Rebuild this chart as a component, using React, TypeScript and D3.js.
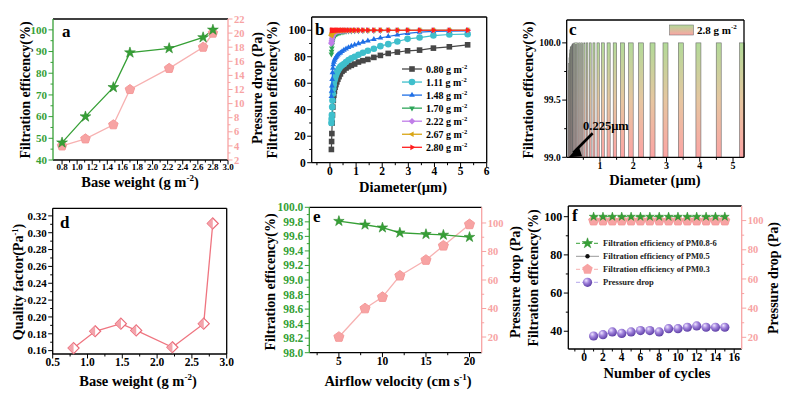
import React from 'react';
import * as d3 from 'd3';

const FONT = "'Liberation Serif','Times New Roman',serif";
const GREEN = '#36a036';
const PINK = '#f7a3a3';
const PINKLINE = '#f7b1b1';

// ---- panel a / d : base weight series
const baseWeight = [0.8, 1.11, 1.48, 1.7, 2.22, 2.67, 2.8];
const effA = [48, 60, 73.5, 89.5, 91.5, 96.5, 100];
const dropA = [4, 5, 7, 12, 15, 18, 20];
const qualityD = [0.163, 0.183, 0.192, 0.184, 0.164, 0.192, 0.311];

// ---- panel b / c : fractional efficiency vs diameter
const diam = [0.054, 0.062, 0.072, 0.083, 0.096, 0.11, 0.127, 0.147, 0.17, 0.196, 0.226, 0.261, 0.301, 0.347, 0.4,
  0.462, 0.533, 0.615, 0.71, 0.819, 0.945, 1.09, 1.26, 1.45, 1.68, 1.93, 2.23, 2.58, 2.97, 3.43, 3.96, 4.57, 5.27];
const eff080 = [10, 16, 22, 30, 36, 42, 47, 51, 54, 57, 59, 61, 63, 65, 67, 69, 70, 71.5, 72.5, 73.5,
  74.5, 76, 77, 78, 79.5, 81, 82.5, 83.5, 84.5, 85, 86.5, 87.5, 89];
const eff111 = [30, 33, 36, 42, 47, 52, 56, 59, 62, 64, 66, 68, 69.5, 71, 72.5, 73.5, 74.5, 76, 77.5, 78.8,
  80, 81.5, 83, 84.5, 86, 88, 89.5, 91.5, 93.5, 94.5, 96, 96.8, 97];
const eff148 = [50, 54, 58, 63, 68, 71.5, 74, 76, 77.5, 78.5, 79.5, 80.5, 81.5, 82.3, 83, 84, 85, 86, 87, 88,
  89, 90, 91, 92, 93.2, 94.2, 95.3, 96.5, 97.7, 98.6, 99.1, 99.3, 99.5];
const eff170 = [82, 84, 86.5, 89, 91, 92.5, 93.8, 94.8, 95.5, 96.2, 96.8, 97.2, 97.6, 98, 98.3, 98.6, 98.8, 99, 99.2, 99.3,
  99.4, 99.5, 99.6, 99.65, 99.7, 99.75, 99.8, 99.82, 99.85, 99.88, 99.9, 99.92, 99.95];
const eff222 = [90, 91, 92.5, 94, 95.3, 96.3, 97, 97.6, 98.1, 98.5, 98.8, 99.05, 99.25, 99.4, 99.5, 99.6, 99.68, 99.75, 99.8, 99.84,
  99.87, 99.9, 99.92, 99.94, 99.95, 99.96, 99.97, 99.98, 99.98, 99.99, 99.99, 99.99, 100];
const eff267 = [96, 96.5, 97, 97.6, 98.1, 98.5, 98.9, 99.2, 99.4, 99.55, 99.65, 99.75, 99.8, 99.85, 99.9, 99.92, 99.94, 99.96, 99.97, 99.98,
  99.98, 99.99, 99.99, 99.99, 100, 100, 100, 100, 100, 100, 100, 100, 100];
const eff280 = [99.76, 99.82, 99.87, 99.91, 99.94, 99.96, 99.97, 99.98, 99.99, 99.995, 100, 100, 100, 100, 100, 100, 100, 100, 100, 100,
  100, 100, 100, 100, 100, 100, 100, 100, 100, 100, 100, 100, 100];
const weightLabels = ['0.80', '1.11', '1.48', '1.70', '2.22', '2.67', '2.80'];
const seriesB = [
  { label: weightLabels[0], color: '#474747', shape: 'square', values: eff080 },
  { label: weightLabels[1], color: '#3fbfcc', shape: 'circle', values: eff111 },
  { label: weightLabels[2], color: '#1f6fe6', shape: 'up', values: eff148 },
  { label: weightLabels[3], color: '#2fa65a', shape: 'down', values: eff170 },
  { label: weightLabels[4], color: '#c07ee8', shape: 'diamond', values: eff222 },
  { label: weightLabels[5], color: '#d9a514', shape: 'left', values: eff267 },
  { label: weightLabels[6], color: '#ff1e1e', shape: 'right', values: eff280 },
];

// ---- panel e : airflow velocity
const velocity = [5, 8, 10, 12, 15, 17, 20];
const effE = [99.81, 99.76, 99.72, 99.65, 99.63, 99.62, 99.59];
const dropE = [20, 40, 48, 63, 74, 84, 99];

// ---- panel f : cycles
const cycles = [1, 2, 3, 4, 5, 6, 7, 8, 9, 10, 11, 12, 13, 14, 15];
const effPM086 = [100, 100, 100, 100, 100, 100, 100, 100, 100, 100, 100, 100, 100, 100, 100];
const effPM05 = [99.9, 99.9, 99.9, 99.9, 99.9, 99.9, 99.9, 99.9, 99.9, 99.9, 99.9, 99.9, 99.9, 99.9, 99.9];
const effPM03 = [97.9, 97.9, 97.9, 97.9, 97.9, 97.9, 97.9, 97.9, 97.9, 97.9, 97.9, 97.9, 97.9, 97.9, 97.9];
const dropF = [20.9, 21.8, 23.7, 22.7, 23.7, 24.6, 24.6, 23.7, 25.9, 25.9, 26.9, 27.8, 26.9, 26.9, 26.9];
const legendF = ['Filtration efficiency of PM0.8-6', 'Filtration efficiency of PM0.5', 'Filtration efficiency of PM0.3', 'Pressure drop'];

// ---- tick values
const ticksAX = [0.8, 1.0, 1.2, 1.4, 1.6, 1.8, 2.0, 2.2, 2.4, 2.6, 2.8, 3.0];
const ticksAL = [40, 50, 60, 70, 80, 90, 100];
const ticksAR = [2, 4, 6, 8, 10, 12, 14, 16, 18, 20, 22];
const ticksBX = [0, 1, 2, 3, 4, 5, 6];
const ticksBY = [0, 20, 40, 60, 80, 100];
const ticksCX = [1, 2, 3, 4, 5];
const ticksCY = [99.0, 99.5, 100.0];
const ticksDX = [0.5, 1.0, 1.5, 2.0, 2.5, 3.0];
const ticksDY = [0.16, 0.18, 0.2, 0.22, 0.24, 0.26, 0.28, 0.3, 0.32];
const ticksEX = [5, 10, 15, 20];
const ticksEL = [98.0, 98.2, 98.4, 98.6, 98.8, 99.0, 99.2, 99.4, 99.6, 99.8, 100.0];
const ticksER = [20, 40, 60, 80, 100];
const ticksFX = [0, 2, 4, 6, 8, 10, 12, 14, 16];
const ticksFL = [40, 60, 80, 100];
const ticksFR = [20, 40, 60, 80, 100];

const mids = (t: number[]) => t.slice(1).map((v, i) => (v + t[i]) / 2);

const star = (s: number) => d3.symbol(d3.symbolStar, s)() as string;
const pent = (r: number) =>
  'M' + d3.range(5).map(i => {
    const a = -Math.PI / 2 + (i * 2 * Math.PI) / 5;
    return `${r * Math.cos(a)},${r * Math.sin(a)}`;
  }).join('L') + 'Z';

function shapePath(shape: string, r: number) {
  const h = r * 0.87;
  switch (shape) {
    case 'square': return `M${-r * 0.85},${-r * 0.85}h${r * 1.7}v${r * 1.7}h${-r * 1.7}Z`;
    case 'circle': return d3.symbol(d3.symbolCircle, Math.PI * r * r)() as string;
    case 'up': return `M0,${-r}L${h},${r * 0.5}L${-h},${r * 0.5}Z`;
    case 'down': return `M0,${r}L${h},${-r * 0.5}L${-h},${-r * 0.5}Z`;
    case 'left': return `M${-r},0L${r * 0.5},${-h}L${r * 0.5},${h}Z`;
    case 'right': return `M${r},0L${-r * 0.5},${-h}L${-r * 0.5},${h}Z`;
    default: return `M0,${-r}L${r},0L0,${r}L${-r},0Z`;
  }
}

type Sc = d3.ScaleLinear<number, number>;

function Axis({ s, o, at, major, minor = [], fmt = (v: number) => String(v), color = '#000', tc, fs = 11 }: {
  s: Sc; o: 'l' | 'r' | 'b'; at: number; major: number[]; minor?: number[]; fmt?: (v: number) => string; color?: string; tc?: string; fs?: number;
}) {
  const [a, b] = s.range();
  const v = o !== 'b';
  const d = o === 'l' ? -1 : 1;
  const tick = (val: number, len: number, key: string) => v
    ? <line key={key} x1={at} x2={at + d * len} y1={s(val)} y2={s(val)} stroke={color} strokeWidth={1} />
    : <line key={key} x1={s(val)} x2={s(val)} y1={at} y2={at + len} stroke={color} strokeWidth={1} />;
  return (
    <g fontFamily={FONT} fontWeight="bold">
      {v
        ? <line x1={at} x2={at} y1={a} y2={b} stroke={color} strokeWidth={1.3} />
        : <line x1={a} x2={b} y1={at} y2={at} stroke={color} strokeWidth={1.3} />}
      {minor.map((m, i) => tick(m, 2.5, 'm' + i))}
      {major.map((m, i) => tick(m, 4.5, 'M' + i))}
      {major.map((m, i) => v
        ? <text key={'t' + i} x={at + d * 6} y={s(m)} dy="0.35em" textAnchor={o === 'l' ? 'end' : 'start'} fontSize={fs} fill={tc || color}>{fmt(m)}</text>
        : <text key={'t' + i} x={s(m)} y={at + 4 + fs * 0.72} textAnchor="middle" fontSize={fs} fill={tc || color}>{fmt(m)}</text>)}
    </g>
  );
}

function VTitle({ x, y, children, fs = 14 }: { x: number; y: number; children: React.ReactNode; fs?: number }) {
  return (
    <text transform={`translate(${x},${y}) rotate(-90)`} textAnchor="middle" dy="0.35em" fontFamily={FONT} fontWeight="bold" fontSize={fs} fill="#000">{children}</text>
  );
}

function HTitle({ x, y, children, fs = 14.5 }: { x: number; y: number; children: React.ReactNode; fs?: number }) {
  return (
    <text x={x} y={y} textAnchor="middle" dy="0.35em" fontFamily={FONT} fontWeight="bold" fontSize={fs} fill="#000">{children}</text>
  );
}

const Sup = ({ t, fs }: { t: string; fs: number }) => (
  <><tspan dy={-fs * 0.4} fontSize={fs * 0.62}>{t}</tspan><tspan dy={fs * 0.4}>{')'}</tspan></>
);

function Frame({ x0, x1, y0, y1, right = true }: { x0: number; x1: number; y0: number; y1: number; right?: boolean }) {
  return (
    <g stroke="#000" strokeWidth={1.3}>
      <line x1={x0} x2={x1} y1={y0} y2={y0} />
      {right && <line x1={x1} x2={x1} y1={y0} y2={y1} />}
    </g>
  );
}

const Label = ({ x, y, t }: { x: number; y: number; t: string }) => (
  <text x={x} y={y} fontFamily={FONT} fontWeight="bold" fontSize={17} fill="#000">{t}</text>
);

export default function App() {
  // panel a
  const xA = d3.scaleLinear([0.68, 3.0], [53, 228]);
  const yAL = d3.scaleLinear([40, 105], [160, 19]);
  const yAR = d3.scaleLinear([2, 22], [160, 19]);
  // panel b
  const xB = d3.scaleLinear([-0.7, 6], [311.7, 486.7]);
  const yB = d3.scaleLinear([0, 110], [162.7, 17]);
  // panel c
  const xC = d3.scaleLinear([0, 5.33], [566.7, 744]);
  const yC = d3.scaleLinear([99, 100.2], [157.3, 20]);
  // panel d
  const xD = d3.scaleLinear([0.5, 3.0], [52.7, 226.7]);
  const yD = d3.scaleLinear([0.156, 0.329], [354, 208.3]);
  // panel e
  const xE = d3.scaleLinear([1.6, 21.4], [309.3, 481.7]);
  const yEL = d3.scaleLinear([98, 100], [352.7, 207.3]);
  const yER = d3.scaleLinear([9, 111], [352.7, 207.3]);
  // panel f
  const xF = d3.scaleLinear([-1.7, 16.8], [568.3, 741.7]);
  const yFL = d3.scaleLinear([30.7, 105.6], [349, 206]);
  const yFR = d3.scaleLinear([12, 110], [349, 206]);

  const line = (xs: number[], ys: number[], sx: Sc, sy: Sc) =>
    d3.line<number>().x((_, i) => sx(xs[i])).y(d => sy(d))(ys) as string;

  const f1 = d3.format('.1f');
  const f2 = d3.format('.2f');

  return (
    <svg width={795} height={399} style={{ position: 'absolute', left: 0, top: 0, background: '#fff' }}>
      <defs>
        <linearGradient id="barGrad" gradientUnits="userSpaceOnUse" x1="0" x2="0" y1={yC(100)} y2={yC(99)}>
          <stop offset="0" stopColor="#b2da98" />
          <stop offset="0.5" stopColor="#e6c6a0" />
          <stop offset="1" stopColor="#fca4a4" />
        </linearGradient>
        <linearGradient id="legGrad" x1="0" x2="0" y1="0" y2="1">
          <stop offset="0" stopColor="#b2da98" />
          <stop offset="1" stopColor="#fca4a4" />
        </linearGradient>
        <radialGradient id="sph" cx="0.4" cy="0.35" r="0.65" fx="0.35" fy="0.3">
          <stop offset="0" stopColor="#efe6ff" />
          <stop offset="0.45" stopColor="#a183dc" />
          <stop offset="1" stopColor="#5e3fa6" />
        </radialGradient>
      </defs>

      {/* ---------- a ---------- */}
      <g>
        <Frame x0={53} x1={228} y0={19} y1={160} right={false} />
        <Axis s={xA} o="b" at={160} major={ticksAX} minor={mids(ticksAX)} fmt={f1} fs={9} />
        <Axis s={yAL} o="l" at={53} major={ticksAL} minor={mids(ticksAL)} color={GREEN} fs={11} />
        <Axis s={yAR} o="r" at={228} major={ticksAR} minor={mids(ticksAR)} color={PINK} fs={10.5} />
        <path d={line(baseWeight, dropA, xA, yAR)} fill="none" stroke={PINKLINE} strokeWidth={1.3} />
        <path d={line(baseWeight, effA, xA, yAL)} fill="none" stroke={GREEN} strokeWidth={1.3} />
        {baseWeight.map((w, i) => (
          <path key={'ap' + i} d={pent(5)} transform={`translate(${xA(w)},${yAR(dropA[i])})`} fill={PINK} stroke="#f59a9a" />
        ))}
        {baseWeight.map((w, i) => (
          <path key={'as' + i} d={star(36)} transform={`translate(${xA(w)},${yAL(effA[i])})`} fill={GREEN} stroke="#2b8a2b" strokeWidth={0.6} />
        ))}
        <Label x={62} y={37} t="a" />
        <VTitle x={25} y={90}>Filtration efficency(%)</VTitle>
        <VTitle x={257} y={88}>Pressure drop (Pa)</VTitle>
        <HTitle x={140} y={182}>Base weight (g m<Sup t="-2" fs={14.5} /></HTitle>
      </g>

      {/* ---------- b ---------- */}
      <g>
        <Frame x0={311.7} x1={486.7} y0={17} y1={162.7} />
        <Axis s={xB} o="b" at={162.7} major={ticksBX} minor={[-0.5, ...mids(ticksBX)]} fs={11.5} />
        <Axis s={yB} o="l" at={311.7} major={ticksBY} minor={mids(ticksBY)} fs={11.5} />
        {seriesB.map(sr => (
          <g key={sr.label}>
            <path d={line(diam, sr.values, xB, yB)} fill="none" stroke={sr.color} strokeWidth={1.2} />
            {diam.map((dd, i) => (
              <path key={i} d={shapePath(sr.shape, 3.3)} transform={`translate(${xB(dd)},${yB(sr.values[i])})`} fill={sr.color} />
            ))}
          </g>
        ))}
        {seriesB.map((sr, i) => {
          const y = 69 + i * 13.05;
          return (
            <g key={'lg' + i}>
              <line x1={402} x2={422} y1={y} y2={y} stroke={sr.color} strokeWidth={1.3} />
              <path d={shapePath(sr.shape, 3.3)} transform={`translate(412,${y})`} fill={sr.color} />
              <text x={426} y={y} dy="0.35em" fontFamily={FONT} fontWeight="bold" fontSize={10} fill="#000">
                {sr.label} g m<tspan dy={-4} fontSize={6.5}>-2</tspan>
              </text>
            </g>
          );
        })}
        <Label x={315} y={35} t="b" />
        <VTitle x={272} y={90}>Filtration efficency(%)</VTitle>
        <HTitle x={403} y={187}>Diameter(µm)</HTitle>
      </g>

      {/* ---------- c ---------- */}
      <g>
        {diam.map((dd, i) => {
          const gap = i === 0 ? diam[1] - diam[0] : dd - diam[i - 1];
          const w = Math.min(0.15, gap * 0.55);
          const x0 = xC(dd - w / 2);
          const x1 = xC(dd + w / 2);
          return (
            <rect key={'cb' + i} x={x0} y={yC(eff280[i])} width={Math.max(0.6, x1 - x0)} height={yC(99) - yC(eff280[i])}
              fill="url(#barGrad)" stroke="#6a6a6a" strokeWidth={0.6} />
          );
        })}
        <Frame x0={566.7} x1={744} y0={20} y1={157.3} />
        <Axis s={xC} o="b" at={157.3} major={ticksCX} minor={mids([0, ...ticksCX])} fs={10} />
        <Axis s={yC} o="l" at={566.7} major={ticksCY} minor={mids(ticksCY)} fmt={f1} fs={9.5} />
        <rect x={669.5} y={25} width={24} height={10} fill="url(#legGrad)" stroke="#777" strokeWidth={0.6} />
        <text x={697} y={30} dy="0.35em" fontFamily={FONT} fontWeight="bold" fontSize={11}>
          2.8 g m<tspan dy={-4.5} fontSize={7}>-2</tspan>
        </text>
        <text x={583} y={130} fontFamily={FONT} fontWeight="bold" fontSize={12.5}>0.225µm</text>
        <line x1={xC(0.78)} y1={yC(99.21)} x2={xC(0.2)} y2={yC(99.04)} stroke="#000" strokeWidth={2.6} />
        <path d={`M${xC(0.06)},${yC(99.0)} L${xC(0.36)},${yC(99.0) - 11} L${xC(0.1) + 12},${yC(99.0) - 1}Z`} fill="#000" />
        <Label x={569} y={35} t="c" />
        <VTitle x={528} y={90}>Filtration efficency(%)</VTitle>
        <HTitle x={655} y={180}>Diameter (µm)</HTitle>
      </g>

      {/* ---------- d ---------- */}
      <g>
        <Frame x0={52.7} x1={226.7} y0={208.3} y1={354} />
        <Axis s={xD} o="b" at={354} major={ticksDX} minor={mids(ticksDX)} fmt={f1} fs={11.5} />
        <Axis s={yD} o="l" at={52.7} major={ticksDY} minor={mids(ticksDY)} fmt={f2} fs={11} />
        <path d={line(baseWeight, qualityD, xD, yD)} fill="none" stroke="#ef7580" strokeWidth={1.3} />
        {baseWeight.map((w, i) => {
          const cx = xD(w), cy = yD(qualityD[i]), r = 5.5;
          return (
            <g key={'dm' + i} transform={`translate(${cx},${cy})`}>
              <path d={`M0,${-r}L${r},0L0,${r}L${-r},0Z`} fill="#fff" stroke="#ea6a78" strokeWidth={1.2} />
              <path d={`M0,${-r}L0,${r}L${-r},0Z`} fill="#f4a3ab" />
            </g>
          );
        })}
        <Label x={60} y={228} t="d" />
        <VTitle x={18} y={282}>Quality factor(Pa<tspan dy={-5} fontSize={8.5}>-1</tspan><tspan dy={5}>)</tspan></VTitle>
        <HTitle x={138} y={381}>Base weight (g m<Sup t="-2" fs={14.5} /></HTitle>
      </g>

      {/* ---------- e ---------- */}
      <g>
        <Frame x0={309.3} x1={481.7} y0={207.3} y1={352.7} right={false} />
        <Axis s={xE} o="b" at={352.7} major={ticksEX} minor={mids([0, ...ticksEX])} fs={11.5} />
        <Axis s={yEL} o="l" at={309.3} major={ticksEL} minor={mids(ticksEL)} fmt={f1} color={GREEN} fs={11.5} />
        <Axis s={yER} o="r" at={481.7} major={ticksER} minor={mids(ticksER)} color={PINK} fs={10.5} />
        <path d={line(velocity, dropE, xE, yER)} fill="none" stroke={PINKLINE} strokeWidth={1.3} />
        <path d={line(velocity, effE, xE, yEL)} fill="none" stroke={GREEN} strokeWidth={1.3} />
        {velocity.map((v, i) => (
          <path key={'ep' + i} d={pent(5.3)} transform={`translate(${xE(v)},${yER(dropE[i])})`} fill={PINK} stroke="#f59a9a" />
        ))}
        {velocity.map((v, i) => (
          <path key={'es' + i} d={star(34)} transform={`translate(${xE(v)},${yEL(effE[i])})`} fill={GREEN} stroke="#2b8a2b" strokeWidth={0.6} />
        ))}
        <Label x={313} y={222} t="e" />
        <VTitle x={270} y={282}>Filtration efficency(%)</VTitle>
        <VTitle x={515} y={282}>Pressure drop (Pa)</VTitle>
        <HTitle x={398} y={381}>Airflow velocity (cm s<Sup t="-1" fs={14.5} /></HTitle>
      </g>

      {/* ---------- f ---------- */}
      <g>
        <Frame x0={568.3} x1={741.7} y0={206} y1={349} right={false} />
        <Axis s={xF} o="b" at={349} major={ticksFX} minor={mids([-2, ...ticksFX])} fs={11.5} />
        <Axis s={yFL} o="l" at={568.3} major={ticksFL} minor={mids(ticksFL)} fs={12} />
        <Axis s={yFR} o="r" at={741.7} major={ticksFR} minor={mids(ticksFR)} color={PINK} fs={10.5} />
        <path d={line(cycles, dropF, xF, yFR)} fill="none" stroke="#b3a6ea" strokeWidth={1} strokeDasharray="4,2" />
        <path d={line(cycles, effPM03, xF, yFL)} fill="none" stroke={PINKLINE} strokeWidth={1} strokeDasharray="4,2" />
        {cycles.map((c, i) => (
          <path key={'fp' + i} d={pent(5.2)} transform={`translate(${xF(c)},${yFL(effPM03[i])})`} fill={PINK} stroke="#f59a9a" />
        ))}
        {cycles.map((c, i) => (
          <circle key={'fb' + i} cx={xF(c)} cy={yFL(effPM05[i])} r={1.6} fill="#111" />
        ))}
        <path d={line(cycles, effPM086, xF, yFL)} fill="none" stroke={GREEN} strokeWidth={1} strokeDasharray="4,2" />
        {cycles.map((c, i) => (
          <path key={'fs' + i} d={star(24)} transform={`translate(${xF(c)},${yFL(effPM086[i])})`} fill={GREEN} stroke="#2b8a2b" strokeWidth={0.5} />
        ))}
        {cycles.map((c, i) => (
          <circle key={'fc' + i} cx={xF(c)} cy={yFR(dropF[i])} r={4.6} fill="url(#sph)" />
        ))}
        {legendF.map((t, i) => {
          const y = 243.3 + i * 13;
          const cx = 587.5;
          return (
            <g key={'fl' + i}>
              {i === 0 && <><line x1={576} x2={599} y1={y} y2={y} stroke={GREEN} strokeDasharray="4,2" />
                <path d={star(34)} transform={`translate(${cx},${y})`} fill={GREEN} stroke="#2b8a2b" strokeWidth={0.5} /></>}
              {i === 1 && <><line x1={576} x2={599} y1={y} y2={y} stroke="#999" />
                <circle cx={cx} cy={y} r={2.2} fill="#111" /></>}
              {i === 2 && <><line x1={576} x2={599} y1={y} y2={y} stroke={PINKLINE} strokeDasharray="4,2" />
                <path d={pent(5.5)} transform={`translate(${cx},${y})`} fill={PINK} /></>}
              {i === 3 && <><line x1={576} x2={599} y1={y} y2={y} stroke="#b3a6ea" strokeDasharray="4,2" />
                <circle cx={cx} cy={y} r={4.6} fill="url(#sph)" /></>}
              <text x={603} y={y} dy="0.35em" fontFamily={FONT} fontWeight="bold" fontSize={8.5} fill="#222">{t}</text>
            </g>
          );
        })}
        <Label x={572} y={221} t="f" />
        <VTitle x={533} y={278}>Filtration efficency(%)</VTitle>
        <VTitle x={773} y={278}>Pressure drop (Pa)</VTitle>
        <HTitle x={657} y={373}>Number of cycles</HTitle>
      </g>
    </svg>
  );
}
